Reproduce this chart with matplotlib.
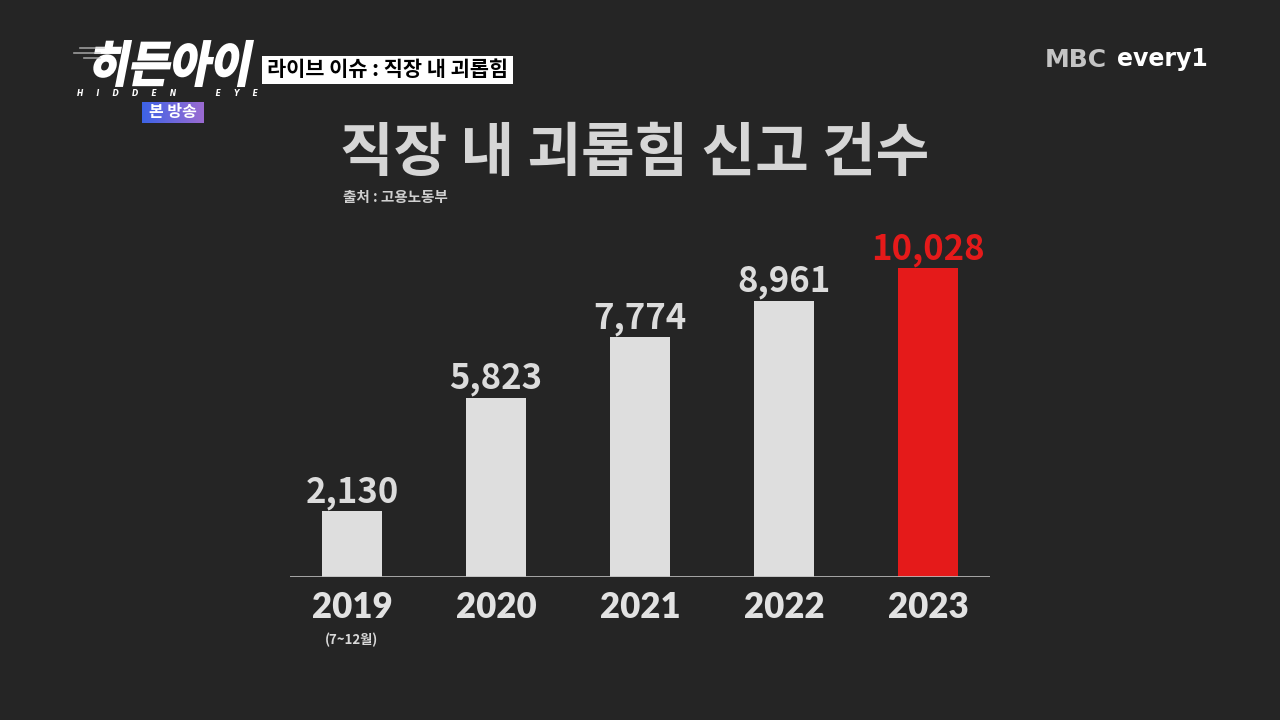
import matplotlib
matplotlib.use('Agg')
import matplotlib.pyplot as plt
import numpy as np
from matplotlib.textpath import TextPath
from matplotlib.patches import PathPatch, Rectangle
from matplotlib.font_manager import FontProperties
from matplotlib.transforms import Affine2D

plt.rcParams['font.family'] = ['Noto Sans CJK KR', 'DejaVu Sans']

# chart data
years = ['2019', '2020', '2021', '2022', '2023']
year_notes = ['(7~12월)', '', '', '', '']
reports = [2130, 5823, 7774, 8961, 10028]
value_labels = ['2,130', '5,823', '7,774', '8,961', '10,028']

title = '직장 내 괴롭힘 신고 건수'
source = '출처 : 고용노동부'
issue_tag = '라이브 이슈 : 직장 내 괴롭힘'
show_tag = '본 방송'

BG = '#252525'
GRAY_BAR = '#dedede'
RED = '#e51a1a'
W, H = 1280, 720


def fig_box(x0, y0, x1, y1):
    """pixel box (top-left origin) -> figure fraction rect"""
    return [x0 / W, (H - y1) / H, (x1 - x0) / W, (y1 - y0) / H]


fig = plt.figure(figsize=(12.8, 7.2), dpi=100, facecolor=BG)

# overlay axes in pixel coords for the broadcast decorations
ov = fig.add_axes([0, 0, 1, 1])
ov.set_xlim(0, W)
ov.set_ylim(0, H)
ov.axis('off')
ov.set_facecolor(BG)


def Y(y):
    return H - y


# logo "히든아이" slanted, drawn from a text path
logo_prop = FontProperties(family='Noto Sans CJK KR', weight='black')
tp = TextPath((0, 0), '히든아이', size=50, prop=logo_prop)
ext = tp.get_extents()
sx = 155 / ext.width
sy = 45 / ext.height
tr = (Affine2D().translate(-ext.x0, -ext.y0).scale(sx, sy)
      .skew_deg(11, 0).translate(89, Y(86)))
ov.add_patch(PathPatch(tr.transform_path(tp), facecolor='white',
                       edgecolor='white', lw=1.5))
# speed streaks on the left of the logo
for yy, x0, x1 in [(48, 80, 104), (53, 74, 100), (58, 84, 100)]:
    ov.plot([x0, x1], [Y(yy), Y(yy)], color='#cccccc', lw=1.2, alpha=0.7)
ov.text(167, Y(93), 'H     I     D     D     E     N               E     Y     E',
        color='white', fontsize=5.5, fontweight='bold', style='italic',
        ha='center', va='center', family=['DejaVu Sans'])

# issue tag box
ov.add_patch(Rectangle((262, Y(84)), 251, 28, facecolor='white', edgecolor='none'))
ov.text(387.5, Y(70), issue_tag, color='black', fontsize=15, fontweight='bold',
        ha='center', va='center')

# "본 방송" gradient box
grad = np.linspace(0, 1, 100).reshape(1, -1)
cmap = matplotlib.colors.LinearSegmentedColormap.from_list('tag', ['#3d63e6', '#9b6bd2'])
ov.imshow(grad, extent=(142, 204, Y(123), Y(102)), cmap=cmap, aspect='auto', zorder=2)
ov.text(173, Y(112.5), show_tag, color='white', fontsize=11.5, fontweight='bold',
        ha='center', va='center', zorder=3)

# channel logo
ov.text(1045, Y(60), 'MBC', color='#c4c4c4', fontsize=18, fontweight='bold',
        ha='left', va='center', family=['DejaVu Sans'])
ov.text(1117, Y(59), 'every1', color='white', fontsize=17, fontweight='bold',
        ha='left', va='center', family=['DejaVu Sans'])

ov.set_xlim(0, W)
ov.set_ylim(0, H)

# title and source
ov.text(340, Y(154), title, color='#d6d6d6', fontsize=42, fontweight='bold',
        ha='left', va='center')
ov.text(343, Y(197), source, color='#d0d0d0', fontsize=10.5, fontweight='bold',
        ha='left', va='center')

# bar chart
ax = fig.add_axes(fig_box(290, 230, 990, 577))
ax.set_facecolor('none')
x = np.arange(len(years))
colors = [GRAY_BAR] * (len(years) - 1) + [RED]
ax.bar(x, reports, width=0.42, color=colors, zorder=2)
ax.set_xlim(-0.43, 4.43)
ax.set_ylim(0, 11260)
ax.axhline(0, color='#bdbdbd', lw=1.2, zorder=3)

for i, (v, lab) in enumerate(zip(reports, value_labels)):
    c = RED if i == len(reports) - 1 else '#dcdcdc'
    ax.annotate(lab, (x[i], v), xytext=(0, 1), textcoords='offset points',
                ha='center', va='bottom', color=c, fontsize=25, fontweight='bold')

ax.set_xticks(x)
ax.set_xticklabels(years, color='#e2e2e2', fontsize=25, fontweight='heavy',
                   family=['Lato', 'DejaVu Sans'])
ax.tick_params(axis='x', length=0, pad=10)
ax.set_yticks([])
for sp in ax.spines.values():
    sp.set_visible(False)

for i, note in enumerate(year_notes):
    if note:
        ax.annotate(note, (x[i], 0), xytext=(0, -40), textcoords='offset points',
                    ha='center', va='top', color='#d8d8d8', fontsize=9.5,
                    fontweight='bold')

fig.savefig('out.png', dpi=100, facecolor=BG)
